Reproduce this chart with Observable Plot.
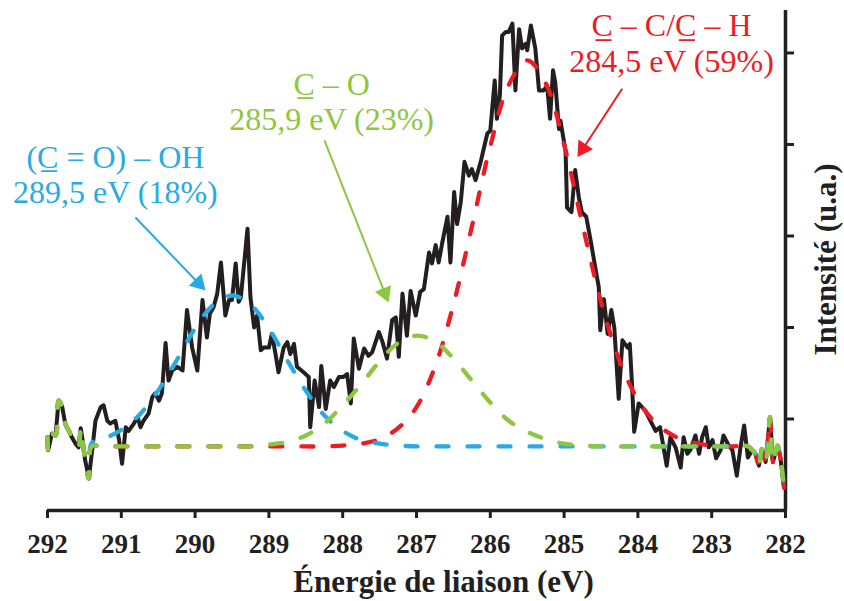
<!DOCTYPE html>
<html><head><meta charset="utf-8">
<script src="https://cdn.jsdelivr.net/npm/d3@7"></script>
<script src="https://cdn.jsdelivr.net/npm/@observablehq/plot@0.6"></script>
<style>
html,body{margin:0;padding:0;background:#fff;}
#chart{width:844px;height:601px;}
</style></head><body><div id="chart"></div>
<script>
// ---- measured spectrum (binding energy eV, intensity a.u.) ----
const energy = [
292.00,291.99,291.94,291.89,291.85,291.80,291.76,291.71,291.67,291.62,
291.58,291.55,291.53,291.49,291.44,291.39,291.35,291.28,291.24,291.19,
291.15,291.08,291.03,290.99,290.94,290.90,290.83,290.78,290.74,290.70,
290.63,290.58,290.54,290.49,290.45,290.40,290.36,290.31,290.24,290.17,
290.11,290.04,289.97,289.90,289.84,289.80,289.75,289.70,289.65,289.59,
289.54,289.50,289.45,289.41,289.38,289.29,289.25,289.20,289.16,289.11,
289.07,289.00,288.96,288.91,288.87,288.80,288.75,288.71,288.66,288.62,
288.53,288.46,288.44,288.38,288.32,288.29,288.23,288.17,288.12,288.05,
287.99,287.94,287.89,287.85,287.78,287.71,287.65,287.60,287.51,287.46,
287.40,287.33,287.28,287.24,287.19,287.13,287.08,287.01,286.95,286.90,
286.83,286.79,286.74,286.70,286.65,286.58,286.54,286.49,286.45,286.40,
286.35,286.29,286.25,286.20,286.13,286.09,286.04,286.00,285.97,285.94,
285.91,285.87,285.84,285.79,285.75,285.70,285.66,285.61,285.57,285.52,
285.50,285.45,285.39,285.34,285.28,285.23,285.19,285.15,285.12,285.07,
285.05,284.98,284.96,284.90,284.85,284.80,284.76,284.70,284.64,284.57,
284.53,284.51,284.46,284.41,284.36,284.32,284.26,284.21,284.14,284.11,
284.08,284.05,283.99,283.90,283.83,283.76,283.70,283.61,283.56,283.49,
283.42,283.38,283.33,283.29,283.22,283.17,283.13,283.08,283.04,282.99,
282.94,282.88,282.84,282.77,282.72,282.66,282.61,282.56,282.51,282.45,
282.41,282.36,282.32,282.27,282.21,282.17,282.11,282.07,282.02];
const intensity = [
0.80,0.66,0.84,0.82,1.20,1.13,0.95,0.87,0.80,0.73,
0.69,0.90,0.80,0.55,0.35,0.69,0.98,1.13,1.15,0.98,
0.95,0.98,0.77,0.51,0.91,0.87,0.95,1.02,0.91,0.98,
1.06,1.24,1.28,1.20,1.28,1.83,1.42,1.53,1.57,1.53,
2.19,1.78,1.53,2.30,1.89,2.15,2.22,2.37,2.71,2.13,
2.30,2.30,2.70,2.28,2.33,3.08,2.33,2.00,2.13,1.75,
1.78,1.78,1.93,1.71,1.51,1.78,1.84,1.71,1.82,1.57,
1.51,1.46,0.91,1.42,1.13,1.58,1.11,1.42,1.35,1.46,
1.46,1.49,1.17,1.88,1.55,1.77,1.69,1.73,1.95,1.84,
1.66,2.08,2.11,1.68,2.37,1.91,2.40,2.13,2.39,2.42,
2.82,2.70,2.90,2.71,2.93,3.21,2.71,3.48,3.13,3.37,
3.81,3.66,3.73,3.61,3.81,3.95,4.12,4.15,4.43,4.70,
4.28,4.54,5.19,5.23,5.23,5.32,4.59,5.26,5.05,5.10,
5.03,5.30,5.05,4.59,4.59,4.64,4.28,4.81,4.68,4.17,
4.26,3.93,3.31,3.26,3.72,3.42,3.26,3.21,2.95,2.62,
2.44,1.97,2.31,1.93,2.19,2.00,1.22,1.86,1.78,1.82,
1.38,0.86,1.17,1.09,0.98,0.87,0.91,0.49,0.80,0.69,
0.47,0.80,0.62,0.66,0.82,0.62,0.80,0.91,0.69,0.77,
0.57,0.66,0.82,0.71,0.66,0.38,0.69,0.93,0.58,0.66,
0.62,0.49,0.67,0.53,1.02,0.53,0.71,0.58,0.25];

// ---- fitted components ----
const fitEnergy = [291.40,291.25,291.00,290.75,290.50,290.25,290.00,289.75,289.50,289.25,
289.00,288.75,288.50,288.25,288.00,287.75,287.50,287.25,287.00,286.75,
286.50,286.25,286.00,285.75,285.50,285.25,285.00,284.75,284.50,284.25,
284.00,283.75,283.50,283.25,283.00,282.75,282.50];
const fitCOOH = [0.74,0.78,0.88,1.05,1.31,1.64,1.99,2.25,2.35,2.25,
1.99,1.64,1.31,1.04,0.87,0.77,0.73,0.71,0.70,0.70,
0.70,0.70,0.70,0.70,0.70,0.70,0.70,0.70,0.70,0.70,
0.70,0.70,0.70,0.70,0.70,0.70,0.70];
const fitCO = [0.70,0.70,0.70,0.70,0.70,0.70,0.70,0.70,0.70,0.70,
0.72,0.75,0.82,0.95,1.15,1.38,1.63,1.83,1.91,1.85,
1.66,1.42,1.18,0.98,0.86,0.78,0.73,0.71,0.70,0.70,
0.70,0.70,0.70,0.70,0.70,0.70,0.70];
const fitCC = [0.70,0.70,0.70,0.70,0.70,0.70,0.70,0.70,0.70,0.70,
0.70,0.70,0.70,0.70,0.71,0.73,0.78,0.90,1.13,1.57,
2.25,3.10,3.98,4.65,4.92,4.67,4.00,3.12,2.28,1.64,
1.21,0.95,0.81,0.74,0.71,0.70,0.70];
const fitEdgeLeft = 291.43, fitEdgeRight = 282.46;

// ---- axes ----
const xDomain = [292, 282];
const yDomain = [0, 5.464];
const xTicks = [292, 291, 290, 289, 288, 287, 286, 285, 284, 283, 282];
const yTicks = [1, 2, 3, 4, 5];
const xTitle = "Énergie de liaison (eV)";
const yTitle = "Intensité (u.a.)";

// ---- annotations ----
const annLine1 = ["(C\u0332 = O) – OH", "C\u0332 – O", "C\u0332 – C/C\u0332 – H"];
const annLine2 = ["289,5 eV (18%)", "285,9 eV (23%)", "284,5 eV (59%)"];
const annColor = ["#29abe2", "#8dc63f", "#ed1c24"];
const annE = [291.08, 288.15, 283.545];
const annV = [3.355, 4.153, 4.79];
const arrowStartE = [290.808, 288.247, 284.213];
const arrowStartV = [3.202, 4.044, 4.609];
const arrowTipE = [289.859, 287.379, 284.818];
const arrowTipV = [2.404, 2.273, 3.863];

const W = 844, H = 601, mL = 47, mR = 59, mT = 10, mB = 91;
const serif = "'Liberation Serif', 'Times New Roman', serif";
const black = "#231f20";

const spectrum = energy.map((e, i) => ({e, v: intensity[i]}));
function fitSeries(vals) {
  const left = spectrum.filter(d => d.e >= fitEdgeLeft);
  const right = spectrum.filter(d => d.e <= fitEdgeRight);
  return [...left, ...fitEnergy.map((e, i) => ({e, v: vals[i]})), ...right];
}

const pxPerE = (W - mL - mR) / (xDomain[0] - xDomain[1]);
const pxPerV = (H - mT - mB) / (yDomain[1] - yDomain[0]);
const arrows = annColor.map((c, i) => {
  const dx = -(arrowTipE[i] - arrowStartE[i]) * pxPerE;
  const dy = -(arrowTipV[i] - arrowStartV[i]) * pxPerV;
  const L = Math.hypot(dx, dy), ux = dx / L, uy = dy / L;
  return {c,
    x1: arrowStartE[i], y1: arrowStartV[i],
    x2: arrowTipE[i] + 9 * ux / pxPerE, y2: arrowTipV[i] + 9 * uy / pxPerV,
    hx: arrowTipE[i] + 10 * ux / pxPerE, hy: arrowTipV[i] + 10 * uy / pxPerV,
    rot: Math.atan2(ux, -uy) * 180 / Math.PI};
});

const dash = {strokeWidth: 4.3, strokeDasharray: "12,19", strokeLinecap: "round", curve: "catmull-rom"};

const plot = Plot.plot({
  width: W, height: H,
  marginLeft: mL, marginRight: mR, marginTop: mT, marginBottom: mB,
  x: {domain: xDomain},
  y: {domain: yDomain},
  style: {fontFamily: serif, background: "white", overflow: "visible"},
  marks: [
    Plot.axisX({ticks: xTicks, tickSize: 8, tickPadding: 15, fontSize: 27, fontWeight: "bold",
      fontFamily: serif, strokeWidth: 3, label: null, fill: black, stroke: black, tickFormat: d => String(d)}),
    Plot.axisY({anchor: "right", ticks: yTicks, tickSize: 8, strokeWidth: 3, label: null,
      stroke: black, tickFormat: () => ""}),
    Plot.ruleY([0], {stroke: black, strokeWidth: 3.5}),
    Plot.ruleX([282], {stroke: black, strokeWidth: 3.5}),
    Plot.line(spectrum, {x: "e", y: "v", stroke: black, strokeWidth: 4, strokeLinejoin: "round"}),
    Plot.line(fitSeries(fitCC), {x: "e", y: "v", stroke: annColor[2], ...dash}),
    Plot.line(fitSeries(fitCOOH), {x: "e", y: "v", stroke: annColor[0], ...dash}),
    Plot.line(fitSeries(fitCO), {x: "e", y: "v", stroke: annColor[1], ...dash}),
    ...annColor.flatMap((c, i) => [
      Plot.text([{x: annE[i], y: annV[i], t: annLine1[i] + "\n" + annLine2[i]}],
        {x: "x", y: "y", text: "t", fill: c, fontSize: 32, fontFamily: serif,
         textAnchor: "middle", lineAnchor: "bottom", lineHeight: 1.12}),
      Plot.link([arrows[i]], {x1: "x1", y1: "y1", x2: "x2", y2: "y2", stroke: c, strokeWidth: 2}),
      Plot.dot([arrows[i]], {x: "hx", y: "hy", r: 6.5, symbol: "triangle", rotate: arrows[i].rot, fill: c, stroke: "none"})
    ]),
    Plot.text([{x: 286.634, y: -0.896, t: xTitle}], {x: "x", y: "y", text: "t", fontSize: 31, fontWeight: "bold",
      fontFamily: serif, fill: black, textAnchor: "middle", lineAnchor: "bottom"}),
    Plot.text([{x: 281.309, y: 2.743, t: yTitle}], {x: "x", y: "y", text: "t", fontSize: 31, fontWeight: "bold",
      fontFamily: serif, fill: black, textAnchor: "middle", lineAnchor: "bottom", rotate: -90})
  ]
});
document.getElementById("chart").appendChild(plot);
</script>
</body></html>
